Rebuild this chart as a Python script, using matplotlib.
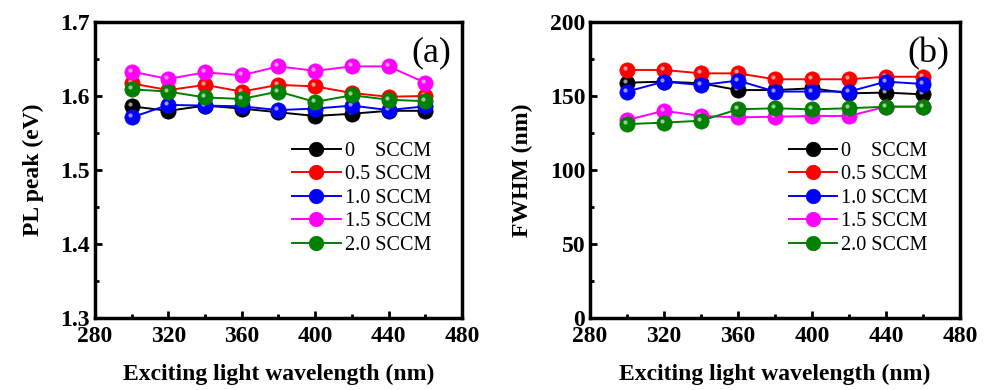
import matplotlib.pyplot as plt
from matplotlib.transforms import offset_copy

plt.rcParams['font.family'] = ['Liberation Serif', 'DejaVu Serif']

wavelength = [300, 320, 340, 360, 380, 400, 420, 440, 460]
labels = ['0    SCCM', '0.5 SCCM', '1.0 SCCM', '1.5 SCCM', '2.0 SCCM']
colors = ['black', 'red', 'blue', 'magenta', 'green']

# PL peak (eV)
pl_0 = [1.586, 1.580, 1.587, 1.583, 1.578, 1.573, 1.576, 1.580, 1.580]
pl_05 = [1.617, 1.608, 1.615, 1.606, 1.615, 1.613, 1.604, 1.599, 1.600]
pl_10 = [1.571, 1.588, 1.587, 1.586, 1.581, 1.583, 1.587, 1.581, 1.586]
pl_15 = [1.633, 1.623, 1.632, 1.628, 1.640, 1.634, 1.640, 1.640, 1.618]
pl_20 = [1.609, 1.606, 1.598, 1.596, 1.606, 1.592, 1.601, 1.595, 1.593]

# FWHM (nm)
fw_0 = [159.0, 159.7, 158.6, 154.0, 154.0, 155.2, 151.8, 152.3, 151.1]
fw_05 = [167.6, 167.6, 165.3, 165.3, 161.3, 161.3, 161.3, 163.0, 163.0]
fw_10 = [153.0, 159.7, 157.4, 160.4, 153.0, 153.0, 153.0, 159.7, 158.1]
fw_15 = [133.8, 140.0, 136.5, 135.6, 136.0, 136.5, 136.5, 142.8, 142.8]
fw_20 = [131.0, 132.0, 133.3, 141.0, 141.7, 141.0, 141.7, 142.8, 142.8]

pl_data = [pl_0, pl_05, pl_10, pl_15, pl_20]
fw_data = [fw_0, fw_05, fw_10, fw_15, fw_20]

fig = plt.figure(figsize=(9.86, 3.9), dpi=100)
ax1 = fig.add_axes([0.0963, 0.1846, 0.3722, 0.759])
ax2 = fig.add_axes([0.5984, 0.1846, 0.3753, 0.759])


def draw(ax, data, ylim, yticks, yminor, ylabel, tag):
    hl = offset_copy(ax.transData, fig=fig, x=-2, y=2, units='dots')
    for vals, c, lab in zip(data, colors, labels):
        ax.plot(wavelength, vals, '-o', color=c, lw=1.4, ms=11,
                mec=c, mew=0.5, label=lab)
        ax.plot(wavelength, vals, 'o', color='white', ms=3, alpha=0.6,
                mew=0, transform=hl)
    ax.set_xlim(280, 480)
    ax.set_ylim(*ylim)
    ax.set_xticks(range(280, 481, 40))
    ax.set_xticks(range(300, 481, 40), minor=True)
    ax.set_yticks(yticks)
    ax.set_yticks(yminor, minor=True)
    if isinstance(yticks[0], float):
        ax.set_yticklabels(['%.1f' % v for v in yticks])
    ax.tick_params(direction='in', which='both', width=2, labelsize=17)
    ax.tick_params(which='major', length=5)
    ax.tick_params(which='minor', length=3)
    ax.tick_params(axis='x', pad=6)
    for lab in ax.get_xticklabels() + ax.get_yticklabels():
        lab.set_fontweight('bold')
    for s in ax.spines.values():
        s.set_linewidth(2.5)
    ax.set_xlabel('Exciting light wavelength (nm)', fontsize=17,
                  fontweight='bold', labelpad=12)
    ax.set_ylabel(ylabel, fontsize=17, fontweight='bold', labelpad=12)
    ax.text(0.97, 0.95, tag, transform=ax.transAxes, ha='right', va='top',
            fontsize=26)
    ax.legend(loc='upper left', bbox_to_anchor=(0.51, 0.63), frameon=False,
              fontsize=14.5, handlelength=2.4, handletextpad=0.2,
              labelspacing=0.22, borderpad=0, markerscale=0.95)


draw(ax1, pl_data, (1.3, 1.7), [1.3, 1.4, 1.5, 1.6, 1.7],
     [1.35, 1.45, 1.55, 1.65], 'PL peak (eV)', '(a)')
draw(ax2, fw_data, (0, 200), [0, 50, 100, 150, 200],
     [25, 75, 125, 175], 'FWHM (nm)', '(b)')

fig.savefig('out.png', dpi=100)
